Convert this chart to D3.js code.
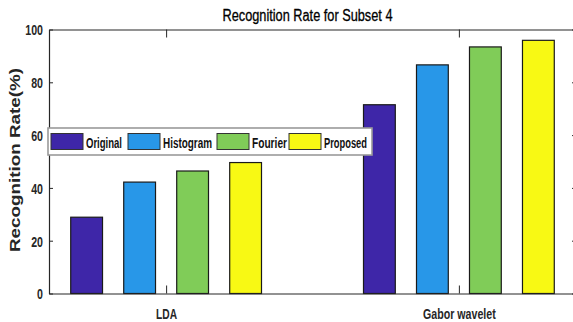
<!DOCTYPE html>
<html>
<head>
<meta charset="utf-8">
<script src="https://cdn.jsdelivr.net/npm/d3@7"></script>
<style>
  body { margin: 0; background: #fff; }
  svg { display: block; }
  text { font-family: "Liberation Sans", Arial, sans-serif; }
</style>
</head>
<body>
<svg id="chart" width="573" height="322"></svg>
<script>
// data
let groups = ["LDA", "Gabor wavelet"];
let methods = ["Original", "Histogram", "Fourier", "Proposed"];
let ldaValues = [28.9, 42.2, 46.4, 49.6];
let gaborValues = [71.5, 86.6, 93.4, 95.9];
let yTicks = [0, 20, 40, 60, 80, 100];
let colors = ["#3e26a8", "#2897e8", "#80cc58", "#f8f914"];

let values = [ldaValues, gaborValues];

// plot box
let margin = {top: 29.5, bottom: 293.5, left: 49, right: 576};

let svg = d3.select("#chart");

// squeeze text to a width (the original uses a condensed font)
function squeeze(sel, w) {
    sel.attr("textLength", w).attr("lengthAdjust", "spacingAndGlyphs");
}

let x0 = d3.scaleLinear()
    .domain([0.6, 2.4])
    .range([margin.left, margin.right]);

// bars inside one group
let step = x0(2) - x0(1);
let x1 = d3.scaleBand()
    .domain(methods)
    .range([-0.362 * step, 0.362 * step])
    .paddingInner(0.4)
    .paddingOuter(0.2);

let y = d3.scaleLinear()
    .domain([0, 100])
    .range([margin.bottom, margin.top]);

// bars
groups.forEach(function (g, gi) {
    let cx = x0(gi + 1);
    svg.append("g")
        .selectAll("rect")
        .data(values[gi])
        .enter()
        .append("rect")
        .attr("x", (d, i) => cx + x1(methods[i]))
        .attr("y", d => y(d))
        .attr("width", x1.bandwidth())
        .attr("height", d => y(0) - y(d))
        .style("fill", (d, i) => colors[i])
        .style("stroke", "#1a1a1a")
        .style("stroke-width", 1.2);
});

// axes box
let axisColor = "#262626";
let leftAxis = svg.append("g")
    .attr("transform", "translate(" + margin.left + ",0)")
    .call(d3.axisLeft(y).tickValues(yTicks).tickSize(-4).tickSizeOuter(0).tickPadding(6));
let rightAxis = svg.append("g")
    .attr("transform", "translate(" + margin.right + ",0)")
    .call(d3.axisRight(y).tickValues(yTicks).tickSize(-4).tickSizeOuter(0).tickFormat(""));
let bottomAxis = svg.append("g")
    .attr("transform", "translate(0," + margin.bottom + ")")
    .call(d3.axisBottom(x0).tickValues([1, 2]).tickSize(-8).tickSizeOuter(0)
        .tickFormat((d, i) => groups[i]));
let topAxis = svg.append("g")
    .attr("transform", "translate(0," + margin.top + ")")
    .call(d3.axisTop(x0).tickValues([1, 2]).tickSize(-8).tickSizeOuter(0).tickFormat(""));

[leftAxis, rightAxis, bottomAxis, topAxis].forEach(function (a) {
    a.select(".domain").attr("stroke", axisColor).attr("stroke-width", 1.2);
    a.selectAll(".tick line").attr("stroke", axisColor);
});

leftAxis.selectAll("text")
    .attr("fill", "#262626")
    .attr("dy", "0.36em")
    .style("font-family", "'Liberation Sans', Arial, sans-serif")
    .style("font-weight", "bold")
    .style("font-size", "15px")
    .each(function (d) {
        squeeze(d3.select(this), String(d).length * 5.9);
    });

let bottomWidths = [21, 72.7];
bottomAxis.selectAll("text")
    .attr("fill", "#262626")
    .attr("y", 25)
    .attr("dy", "0")
    .style("font-family", "'Liberation Sans', Arial, sans-serif")
    .style("font-weight", "bold")
    .style("font-size", "15.5px")
    .each(function (d, i) {
        squeeze(d3.select(this), bottomWidths[i]);
    });

// title
svg.append("text")
    .attr("x", 307.5)
    .attr("y", 20.5)
    .attr("text-anchor", "middle")
    .style("font-size", "16px")
    .style("fill", "#000")
    .style("stroke", "#000")
    .style("stroke-width", 0.3)
    .text("Recognition Rate for Subset 4")
    .call(squeeze, 170);

// y label
svg.append("text")
    .attr("transform", "translate(20,160) rotate(-90)")
    .attr("text-anchor", "middle")
    .style("font-weight", "bold")
    .style("font-size", "14.5px")
    .style("fill", "#262626")
    .text("Recognition Rate(%)")
    .call(squeeze, 184);

// legend
let legend = svg.append("g");
legend.append("rect")
    .attr("x", 48)
    .attr("y", 128)
    .attr("width", 324)
    .attr("height", 27)
    .style("fill", "#fff")
    .style("stroke", "#9a9a9a")
    .style("stroke-width", 1.6);

let legendX = [51, 128, 217, 289];
let legendW = [36, 49, 35, 43];
methods.forEach(function (m, i) {
    legend.append("rect")
        .attr("x", legendX[i])
        .attr("y", 133.5)
        .attr("width", 32)
        .attr("height", 16)
        .style("fill", colors[i])
        .style("stroke", "#333")
        .style("stroke-width", 1);
    legend.append("text")
        .attr("x", legendX[i] + 35)
        .attr("y", 147.5)
        .style("font-weight", "bold")
        .style("font-size", "14px")
        .style("fill", "#111")
        .text(m)
        .call(squeeze, legendW[i]);
});
</script>
</body>
</html>
